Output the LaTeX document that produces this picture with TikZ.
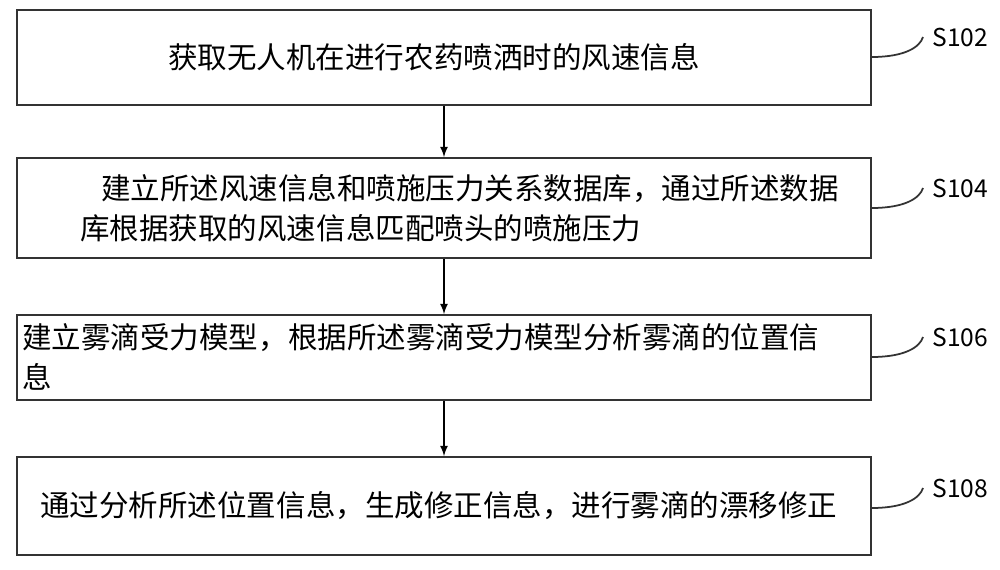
\documentclass[tikz,border=0pt]{standalone}
\usepackage{fontspec}
\setmainfont{Noto Sans CJK SC}
\begin{document}
\begin{tikzpicture}[x=0.02cm,y=-0.02cm,
  box/.style={draw=black!80,line width=1pt},
  txt/.style={font=\fontsize{16.8pt}{23pt}\selectfont,inner sep=0pt,anchor=west,align=left},
  lab/.style={font=\fontsize{14pt}{16pt}\selectfont,inner sep=0pt,anchor=west},
  arr/.style={-latex,line width=1pt},
  crv/.style={line width=1pt,black!80}]
\useasboundingbox (0,0) rectangle (1000,570);
\node[box,minimum width=854*0.02cm,minimum height=95*0.02cm,inner sep=0pt] (b1) at (444,57.5) {};
\node[box,minimum width=854*0.02cm,minimum height=100*0.02cm,inner sep=0pt] (b2) at (444,208) {};
\node[box,minimum width=854*0.02cm,minimum height=85*0.02cm,inner sep=0pt] (b3) at (444,357.5) {};
\node[box,minimum width=854*0.02cm,minimum height=98*0.02cm,inner sep=0pt] (b4) at (444,506) {};
\node[txt] (t1) at (168,57) {获取无人机在进行农药喷洒时的风速信息};
\node[txt] (t2) at (80,208) {\hspace{0.7em}建立所述风速信息和喷施压力关系数据库，通过所述数据\\库根据获取的风速信息匹配喷头的喷施压力};
\node[txt] (t3) at (22,357) {建立雾滴受力模型，根据所述雾滴受力模型分析雾滴的位置信\\息};
\node[txt] (t4) at (40,506) {通过分析所述位置信息，生成修正信息，进行雾滴的漂移修正};
\draw[arr] (b1.south) -- (b2.north);
\draw[arr] (b2.south) -- (b3.north);
\draw[arr] (b3.south) -- (b4.north);
\foreach \b/\l/\y in {b1/S102/37,b2/S104/188,b3/S106/337,b4/S108/488}{
  \node[lab] (l\b) at (932,\y) {\l};
  \draw[crv] (\b.east |- 0,\y+20) .. controls (905,\y+20) and (920,\y+10) .. (923,\y);
}
\end{tikzpicture}
\end{document}
